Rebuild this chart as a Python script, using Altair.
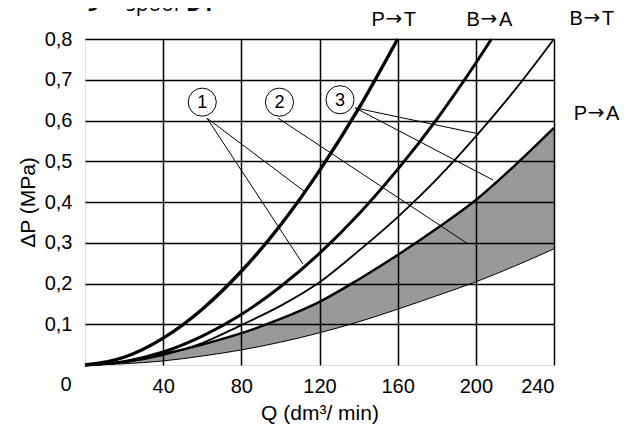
import altair as alt
import pandas as pd

FONT = "Liberation Sans"

# ---- curve data (Q in dm3/min, dP in MPa) ----
q_pt = [0, 20, 40, 60, 80, 100, 120, 140, 160]
dp_pt = [0, 0.019, 0.066, 0.137, 0.23, 0.343, 0.477, 0.629, 0.8]

q_ba = [0, 20, 40, 60, 80, 100, 120, 140, 160, 180, 200, 208]
dp_ba = [0, 0.0083, 0.032, 0.071, 0.124, 0.192, 0.274, 0.370, 0.48, 0.603, 0.741, 0.8]

q_bt = [0, 20, 40, 60, 80, 100, 120, 140, 160, 180, 200, 220, 240]
dp_bt = [0, 0.0063, 0.024, 0.054, 0.098, 0.145, 0.203, 0.28, 0.363, 0.456, 0.561, 0.675, 0.8]

q_pa = [0, 20, 40, 60, 80, 100, 120, 140, 160, 180, 200, 220, 240]
dp_pa_hi = [0, 0.008, 0.027, 0.05, 0.078, 0.113, 0.155, 0.21, 0.27, 0.335, 0.405, 0.49, 0.582]
dp_pa_lo = [0, 0.003, 0.01, 0.022, 0.037, 0.056, 0.079, 0.106, 0.137, 0.17, 0.204, 0.243, 0.285]

# ---- annotations ----
curve_from = ["P", "B", "B", "P"]
curve_to = ["T", "A", "T", "A"]
curve_name_q = [158, 206.7, 259.4, 261.5]
curve_name_dp = [0.832, 0.832, 0.834, 0.601]

circle_labels = ["1", "2", "3"]
circle_q = [60, 99.5, 130.5]
circle_dp = [0.645, 0.645, 0.651]

ptr_q0 = [62.4, 62.4, 98.8, 138.2, 138.2]
ptr_dp0 = [0.606, 0.606, 0.606, 0.631, 0.631]
ptr_q1 = [112.6, 111.5, 196.0, 201.6, 208.8]
ptr_dp1 = [0.425, 0.248, 0.297, 0.567, 0.454]

x_ticks = [40, 80, 120, 160, 200, 240]
y_ticks = [0.1, 0.2, 0.3, 0.4, 0.5, 0.6, 0.7, 0.8]

# ---- tables ----
rows = []
for name, qs, ds, w in [("PT", q_pt, dp_pt, 3.4), ("BA", q_ba, dp_ba, 3.0),
                        ("BT", q_bt, dp_bt, 1.8), ("PAhi", q_pa, dp_pa_hi, 2.4),
                        ("PAlo", q_pa, dp_pa_lo, 1.0)]:
    for i, (q, d) in enumerate(zip(qs, ds)):
        rows.append({"Q": q, "dP": d, "curve": name, "w": w, "i": i})
lines_df = pd.DataFrame(rows)
area_df = pd.DataFrame({"Q": q_pa, "hi": dp_pa_hi, "lo": dp_pa_lo})
names_df = pd.DataFrame({"Q": curve_name_q, "dP": curve_name_dp, "a": curve_from,
                         "b": curve_to, "arrow": ["\u2192"] * 4})
circ_df = pd.DataFrame({"Q": circle_q, "dP": circle_dp, "t": circle_labels})
ptr_df = pd.DataFrame({"Q": ptr_q0, "dP": ptr_dp0, "Q1": ptr_q1, "dP1": ptr_dp1})
zero_df = pd.DataFrame({"Q": [0], "dP": [0], "t": ["0"]})
head_bold_df = pd.DataFrame({"Q": [4.1, 58.8], "dP": [0.869, 0.869], "t": ["9", "D1"]})
head_reg_df = pd.DataFrame({"Q": [34.5], "dP": [0.869], "t": ["spool"]})

xs = alt.Scale(domain=[0, 240], nice=False, zero=False)
ys = alt.Scale(domain=[0, 0.8], nice=False, zero=False)

xaxis = alt.Axis(values=x_ticks, title="Q (dm\u00b3/ min)", grid=True, ticks=False, domain=False,
                 labelPadding=11, labelFontSize=20, labelFont=FONT, labelColor="black",
                 titleFontSize=21, titleFont=FONT, titleFontWeight="normal", titleColor="black",
                 titleY=54, titleBaseline="alphabetic",
                 gridColor="black", gridWidth=1.5, gridOpacity=1, zindex=1)
yaxis = alt.Axis(values=y_ticks, title="\u0394P (MPa)", grid=True, ticks=False, domain=False,
                 labelExpr="replace(format(datum.value, '.1f'), '.', ',')",
                 labelPadding=13, labelFontSize=20, labelFont=FONT, labelColor="black",
                 titleFontSize=21, titleFont=FONT, titleFontWeight="normal", titleColor="black",
                 titleAngle=270, titleX=-51, titleY=163, titleAlign="center",
                 titleBaseline="alphabetic",
                 gridColor="black", gridWidth=1.5, gridOpacity=1, zindex=1)


def X(f="Q"):
    return alt.X(f"{f}:Q", scale=xs, axis=xaxis)


def Y(f="dP"):
    return alt.Y(f"{f}:Q", scale=ys, axis=yaxis)


area = alt.Chart(area_df).mark_area(color="#999999", opacity=1, interpolate="monotone").encode(
    x=X(), y=Y("hi"), y2="lo:Q")

lines = alt.Chart(lines_df).mark_line(color="black", interpolate="monotone").encode(
    x=X(), y=Y(), detail="curve:N", order="i:Q",
    strokeWidth=alt.StrokeWidth("w:Q", scale=None))

ptrs = alt.Chart(ptr_df).mark_rule(color="black", strokeWidth=1).encode(
    x=X(), y=Y(), x2="Q1:Q", y2="dP1:Q")

circles = alt.Chart(circ_df).mark_point(shape="circle", size=790, filled=False, color="black",
                                        strokeWidth=1, opacity=1).encode(x=X(), y=Y())
circ_text = alt.Chart(circ_df).mark_text(font=FONT, fontSize=18, color="black",
                                         baseline="middle", align="center", dy=1).encode(
    x=X(), y=Y(), text="t:N")

name_a = alt.Chart(names_df).mark_text(font=FONT, fontSize=20, color="black",
                                       baseline="alphabetic", align="right", dx=-9).encode(
    x=X(), y=Y(), text="a:N")
name_arrow = alt.Chart(names_df).mark_text(font="DejaVu Sans", fontSize=20, color="black",
                                           baseline="alphabetic", align="center", dy=-1).encode(
    x=X(), y=Y(), text="arrow:N")
name_b = alt.Chart(names_df).mark_text(font=FONT, fontSize=20, color="black",
                                       baseline="alphabetic", align="left", dx=10).encode(
    x=X(), y=Y(), text="b:N")

zero = alt.Chart(zero_df).mark_text(font=FONT, fontSize=20, color="black", baseline="middle",
                                    align="center", dx=-19, dy=20).encode(x=X(), y=Y(), text="t:N")

head_b = alt.Chart(head_bold_df).mark_text(font="Open Sans", fontSize=21, fontWeight="bold",
                                           color="black", baseline="alphabetic",
                                           align="center").encode(x=X(), y=Y(), text="t:N")
head_r = alt.Chart(head_reg_df).mark_text(font="Open Sans", fontSize=21, color="black",
                                          baseline="alphabetic", align="center").encode(
    x=X(), y=Y(), text="t:N")

chart = alt.layer(area, lines, ptrs, circles, circ_text, name_a, name_arrow, name_b, zero,
                  head_b, head_r).properties(
    width=469, height=326,
    autosize=alt.AutoSizeParams(type="none"),
    padding={"left": 77, "top": 31, "right": 72, "bottom": 62},
).configure_view(stroke="black", strokeWidth=1.6).configure(background="white")

chart.save("out.html", embed_options={"renderer": "svg", "actions": False})
